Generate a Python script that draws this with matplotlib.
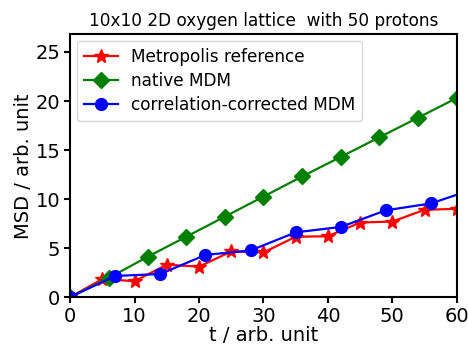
import matplotlib
matplotlib.use("Agg")
import matplotlib.pyplot as plt

t_metro = [0, 5, 10, 15, 20, 25, 30, 35, 40, 45, 50, 55, 60]
msd_metro = [0, 1.83, 1.62, 3.3, 3.1, 4.65, 4.55, 6.15, 6.2, 7.6, 7.7, 8.9, 9.0]

t_native = [0, 6, 12, 18, 24, 30, 36, 42, 48, 54, 60]
msd_native = [0, 1.95, 4.1, 6.15, 8.2, 10.25, 12.3, 14.3, 16.3, 18.3, 20.3]

t_corr = [0, 7, 14, 21, 28, 35, 42, 49, 56, 63]
msd_corr = [0, 2.15, 2.35, 4.3, 4.75, 6.6, 7.15, 8.85, 9.55, 11.1]

fig = plt.figure(figsize=(4.68, 3.47), dpi=100)
ax = fig.add_axes([0.15, 0.144, 0.826, 0.757])

ax.plot(t_metro, msd_metro, color="red", marker="*", markersize=10, lw=1.6,
        label="Metropolis reference")
ax.plot(t_native, msd_native, color="green", marker="D", markersize=8, lw=1.6,
        label="native MDM")
ax.plot(t_corr, msd_corr, color="blue", marker="o", markersize=8.5, lw=1.6,
        label="correlation-corrected MDM")

ax.set_xlim(0, 60)
ax.set_ylim(0, 26.8)
ax.set_xticks([0, 10, 20, 30, 40, 50, 60])
ax.set_yticks([0, 5, 10, 15, 20, 25])
ax.tick_params(labelsize=14, width=1.5, length=4, pad=3)
for s in ax.spines.values():
    s.set_linewidth(1.5)

ax.set_xlabel("t / arb. unit", fontsize=14, labelpad=0)
ax.set_ylabel("MSD / arb. unit", fontsize=14, labelpad=2)
ax.set_title("10x10 2D oxygen lattice  with 50 protons", fontsize=12.2)
ax.legend(loc="upper left", fontsize=12.2, borderaxespad=0.4, labelspacing=0.35)

fig.savefig("out.png", dpi=100)
